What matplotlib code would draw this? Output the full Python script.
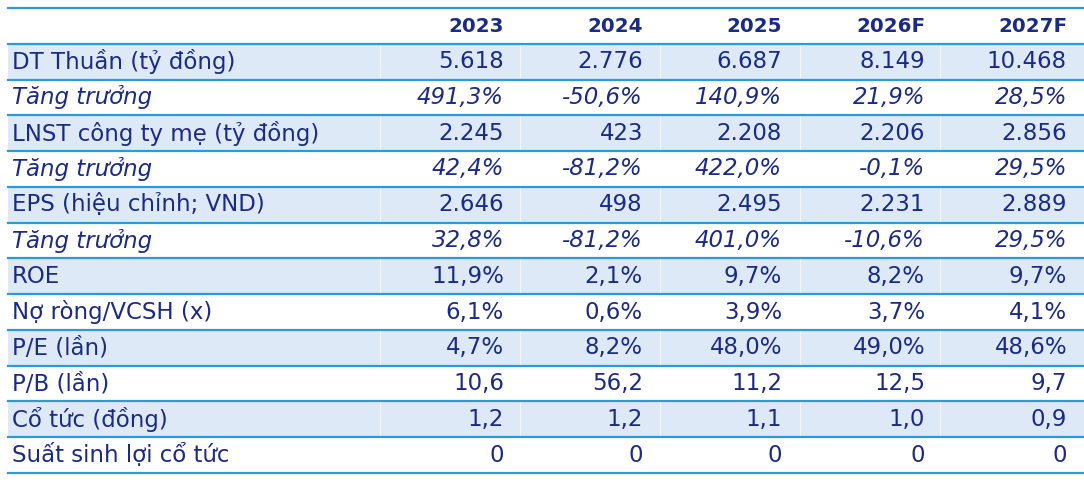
import matplotlib.pyplot as plt
from matplotlib.patches import Rectangle

# Dữ liệu bảng
years = ['2023', '2024', '2025', '2026F', '2027F']
row_labels = ['DT Thuần (tỷ đồng)', 'Tăng trưởng', 'LNST công ty mẹ (tỷ đồng)', 'Tăng trưởng',
              'EPS (hiệu chỉnh; VND)', 'Tăng trưởng', 'ROE', 'Nợ ròng/VCSH (x)', 'P/E (lần)',
              'P/B (lần)', 'Cổ tức (đồng)', 'Suất sinh lợi cổ tức']
dt_thuan = ['5.618', '2.776', '6.687', '8.149', '10.468']
dt_growth = ['491,3%', '-50,6%', '140,9%', '21,9%', '28,5%']
lnst = ['2.245', '423', '2.208', '2.206', '2.856']
lnst_growth = ['42,4%', '-81,2%', '422,0%', '-0,1%', '29,5%']
eps = ['2.646', '498', '2.495', '2.231', '2.889']
eps_growth = ['32,8%', '-81,2%', '401,0%', '-10,6%', '29,5%']
roe = ['11,9%', '2,1%', '9,7%', '8,2%', '9,7%']
net_debt = ['6,1%', '0,6%', '3,9%', '3,7%', '4,1%']
pe = ['4,7%', '8,2%', '48,0%', '49,0%', '48,6%']
pb = ['10,6', '56,2', '11,2', '12,5', '9,7']
dividend = ['1,2', '1,2', '1,1', '1,0', '0,9']
div_yield = ['0', '0', '0', '0', '0']
rows = [dt_thuan, dt_growth, lnst, lnst_growth, eps, eps_growth,
        roe, net_debt, pe, pb, dividend, div_yield]
italic_rows = [1, 3, 5]

navy = '#1c2a87'
line_blue = '#2b9bd8'
shade = '#dde9f7'

fig = plt.figure(figsize=(10.84, 4.8), dpi=100)
ax = fig.add_axes([0, 0, 1, 1])
ax.set_xlim(0, 1084)
ax.set_ylim(480, 0)
ax.axis('off')

left, right = 8, 1084
top = 8
rh = 35.77
col_edges = [380, 520, 660, 800, 940]
text_right = [504, 643, 782, 925, 1067]

# Nền xen kẽ
for i in range(len(rows)):
    y0 = top + (i + 1) * rh
    if i % 2 == 0:
        ax.add_patch(Rectangle((left, y0), right - left, rh, color=shade, lw=0, zorder=0))

# Vách ngăn cột mờ
for x in col_edges:
    ax.plot([x, x], [top, top + 13 * rh], color='white', lw=0.8, alpha=0.6, zorder=1)

# Đường kẻ ngang
for k in range(14):
    y = top + k * rh
    ax.plot([left, right], [y, y], color=line_blue, lw=1.6, zorder=2)

# Tiêu đề
for j, yr in enumerate(years):
    ax.text(text_right[j], top + rh / 2 + 1, yr, ha='right', va='center',
            fontsize=14.3, fontweight='bold', color=navy, family='DejaVu Sans')

# Các dòng
for i, (lab, vals) in enumerate(zip(row_labels, rows)):
    yc = top + (i + 1.5) * rh
    style = 'italic' if i in italic_rows else 'normal'
    ax.text(12, yc, lab, ha='left', va='center', fontsize=16.5, color=navy,
            style=style, family='DejaVu Sans')
    for j, v in enumerate(vals):
        ax.text(text_right[j], yc, v, ha='right', va='center', fontsize=16.5,
                color=navy, style=style, family='DejaVu Sans')

fig.savefig('out.png', dpi=100)
